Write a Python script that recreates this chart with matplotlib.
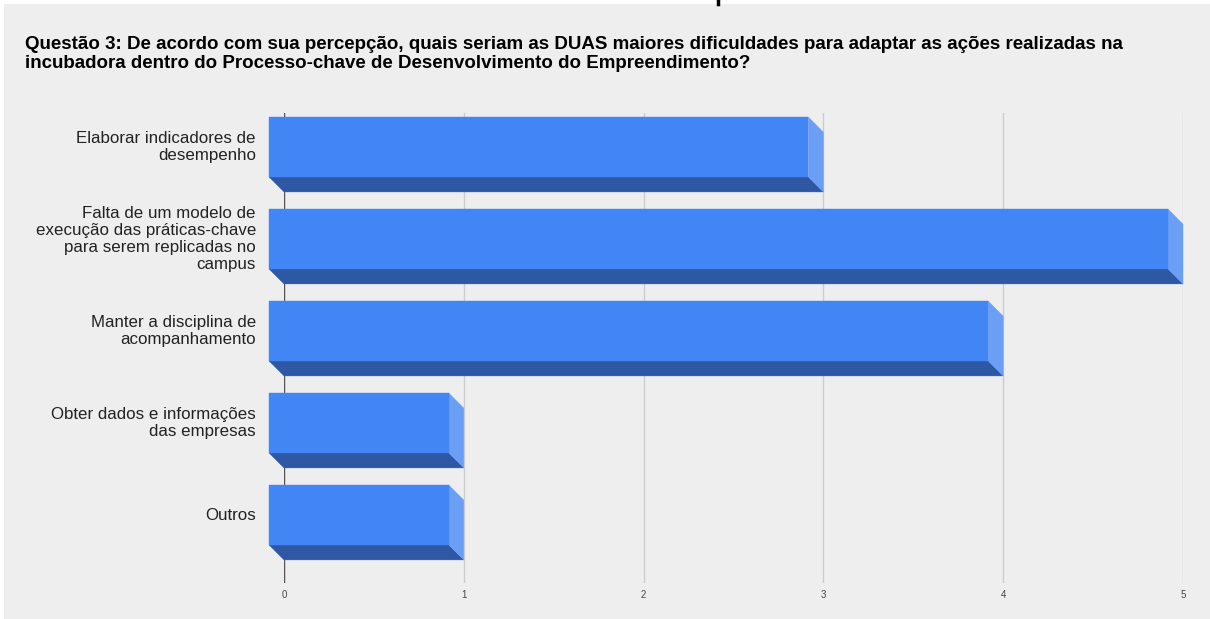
import matplotlib
matplotlib.use('Agg')
import matplotlib.pyplot as plt
from matplotlib.patches import Polygon, Rectangle
from matplotlib.lines import Line2D
from matplotlib.transforms import offset_copy

plt.rcParams['font.family'] = ['Liberation Sans', 'DejaVu Sans']

# data
categories = [
    'Elaborar indicadores de\ndesempenho',
    'Falta de um modelo de\nexecução das práticas-chave\npara serem replicadas no\ncampus',
    'Manter a disciplina de\nacompanhamento',
    'Obter dados e informações\ndas empresas',
    'Outros',
]
values = [3, 5, 4, 1, 1]
x_ticks = [0, 1, 2, 3, 4, 5]
title = ('Questão 3: De acordo com sua percepção, quais seriam as DUAS maiores dificuldades para adaptar as ações realizadas na\n'
         'incubadora dentro do Processo-chave de Desenvolvimento do Empreendimento?')

# colours
FRONT = '#4285f4'
SIDE = '#6b9ff5'
BOTTOM = '#2e58a3'
BG = '#eeeeee'

W, H, DPI = 1210, 619, 100
DEPTH = 15  # pixels of fake 3d depth
BAR_H = 0.65

fig = plt.figure(figsize=(W / DPI, H / DPI), dpi=DPI, facecolor='white')
fig.patches.append(Rectangle((4 / W, 0), 1 - 4 / W, 1 - 4 / H, transform=fig.transFigure,
                             facecolor=BG, edgecolor='none', zorder=-10))
# bit of the cut-off heading above
fig.add_artist(Line2D([718 / W, 718 / W], [1, 1 - 4 / H], color='black', lw=2.5))

fig.text(25 / W, 1 - 36 / H, title, fontsize=13.5, fontweight='bold', color='black',
         ha='left', va='top', linespacing=1.15)

ax = fig.add_axes([284 / W, (H - 583) / H, (1183 - 284) / W, (583 - 113) / H])
ax.set_facecolor('none')
ax.set_xlim(0, 5)
ax.set_ylim(4.576, -0.533)
for s in ax.spines.values():
    s.set_visible(False)

ax.set_xticks(x_ticks)
ax.set_xticklabels([str(t) for t in x_ticks], fontsize=7, color='#444444')
ax.tick_params(axis='x', length=0, pad=5)
ax.set_yticks([])
ax.grid(axis='x', color='#cccccc', lw=1, zorder=0)
ax.set_axisbelow(True)
ax.axvline(0, color='#555555', lw=1, zorder=1)

# depth offset in data units (front face is up-left of the back face)
inv = ax.transData.inverted()
ox, oy = ax.transData.transform((0, 0))
dx, dy = inv.transform((ox - DEPTH, oy + DEPTH))

for i, v in enumerate(values):
    top, bot = i - BAR_H / 2, i + BAR_H / 2
    front = [(dx, top + dy), (v + dx, top + dy), (v + dx, bot + dy), (dx, bot + dy)]
    side = [(v + dx, top + dy), (v, top), (v, bot), (v + dx, bot + dy)]
    bottom = [(dx, bot + dy), (v + dx, bot + dy), (v, bot), (0, bot)]
    for pts, col in ((bottom, BOTTOM), (side, SIDE), (front, FRONT)):
        ax.add_patch(Polygon(pts, closed=True, facecolor=col, edgecolor=col, lw=0.3,
                             zorder=3, clip_on=False))

lab_tr = offset_copy(ax.get_yaxis_transform(), fig=fig, x=-28, y=DEPTH, units='dots')
for i, lab in enumerate(categories):
    ax.text(0, i, lab, transform=lab_tr, ha='right', va='center', multialignment='right',
            fontsize=12.2, color='#222222', linespacing=1.15)

fig.savefig('out.png', dpi=DPI, facecolor=fig.get_facecolor())
